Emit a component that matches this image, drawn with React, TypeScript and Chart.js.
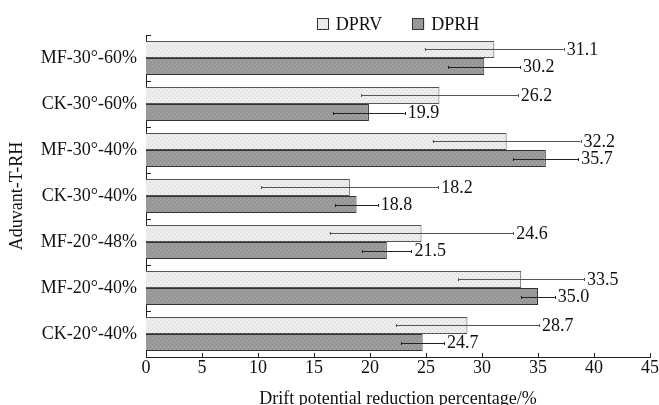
import React, { useEffect, useRef } from "react";
import { Chart, registerables } from "chart.js";

Chart.register(...registerables);

const categories = [
  "MF-30°-60%",
  "CK-30°-60%",
  "MF-30°-40%",
  "CK-30°-40%",
  "MF-20°-48%",
  "MF-20°-40%",
  "CK-20°-40%",
];
const dprv = [31.1, 26.2, 32.2, 18.2, 24.6, 33.5, 28.7];
const dprh = [30.2, 19.9, 35.7, 18.8, 21.5, 35.0, 24.7];
const dprvErr = [6.2, 7.0, 6.6, 7.9, 8.2, 5.6, 6.4];
const dprhErr = [3.2, 3.2, 2.9, 1.9, 2.2, 1.5, 1.9];
const seriesNames = ["DPRV", "DPRH"];
const xMin = 0;
const xMax = 45;
const xStep = 5;

const FONT = '"Liberation Serif", "Times New Roman", serif';

function makePattern(base: string, dot: string, dot2: string) {
  const tile = document.createElement("canvas");
  tile.width = 4;
  tile.height = 4;
  const c = tile.getContext("2d")!;
  c.fillStyle = base;
  c.fillRect(0, 0, 4, 4);
  c.fillStyle = dot;
  c.fillRect(0, 0, 1, 1);
  c.fillRect(2, 2, 1, 1);
  c.fillStyle = dot2;
  c.fillRect(2, 0, 1, 1);
  c.fillRect(0, 2, 1, 1);
  const p = c.createPattern(tile, "repeat");
  return p as CanvasPattern;
}

export default function App() {
  const ref = useRef<HTMLCanvasElement | null>(null);

  useEffect(() => {
    if (!ref.current) return;
    const patV = makePattern("#ececec", "#d6d6d6", "#f4f4f4");
    const patH = makePattern("#9a9a9a", "#888888", "#a8a8a8");
    const errs = [dprvErr, dprhErr];
    const fills = [patV, patH];

    const decor = {
      id: "decor",
      afterDatasetsDraw(chart: any) {
        const ctx = chart.ctx;
        const xs = chart.scales.x;
        const ca = chart.chartArea;
        ctx.save();
        chart.data.datasets.forEach((ds: any, di: number) => {
          const meta = chart.getDatasetMeta(di);
          meta.data.forEach((bar: any, i: number) => {
            const v = ds.data[i];
            const e = errs[di][i];
            const y = Math.round(bar.y) + 0.5;
            const x1 = xs.getPixelForValue(v - e);
            const x2 = xs.getPixelForValue(v + e);
            ctx.strokeStyle = di === 0 ? "#555" : "#222";
            ctx.lineWidth = 1;
            ctx.beginPath();
            ctx.moveTo(x1, y);
            ctx.lineTo(x2, y);
            ctx.moveTo(Math.round(x1) + 0.5, y - 1.5);
            ctx.lineTo(Math.round(x1) + 0.5, y + 1.5);
            ctx.moveTo(Math.round(x2) + 0.5, y - 1.5);
            ctx.lineTo(Math.round(x2) + 0.5, y + 1.5);
            ctx.stroke();
            ctx.fillStyle = "#111";
            ctx.font = `18px ${FONT}`;
            ctx.textAlign = "left";
            ctx.textBaseline = "middle";
            ctx.fillText(v.toFixed(1), x2 + 3, bar.y + 1);
          });
        });
        ctx.strokeStyle = "#222";
        ctx.lineWidth = 1;
        ctx.beginPath();
        for (let v = xMin; v <= xMax; v += xStep) {
          const x = Math.round(xs.getPixelForValue(v)) + 0.5;
          ctx.moveTo(x, ca.bottom);
          ctx.lineTo(x, ca.bottom - 4);
        }
        const n = categories.length;
        for (let i = 0; i <= n; i++) {
          const y = Math.round(ca.top + (i * (ca.bottom - ca.top)) / n) + 0.5;
          ctx.moveTo(ca.left, y);
          ctx.lineTo(ca.left + 5, y);
        }
        ctx.stroke();
        ctx.font = `18px ${FONT}`;
        const box = 12;
        const gap = 7;
        const itemGap = 30;
        const widths = seriesNames.map((s) => ctx.measureText(s).width);
        const total = widths.reduce((a, w) => a + box + gap + w, 0) + itemGap * (seriesNames.length - 1);
        let x = (ca.left + ca.right) / 2 - total / 2;
        const cy = 24;
        seriesNames.forEach((s, k) => {
          ctx.fillStyle = fills[k];
          ctx.fillRect(x, cy - 6, box, box);
          ctx.strokeStyle = "#333";
          ctx.strokeRect(Math.round(x) + 0.5, cy - 6 + 0.5, box - 1, box - 1);
          ctx.fillStyle = "#111";
          ctx.textAlign = "left";
          ctx.textBaseline = "middle";
          ctx.fillText(s, x + box + gap, cy + 1);
          x += box + gap + widths[k] + itemGap;
        });
        ctx.restore();
      },
    };

    const chart = new Chart(ref.current, {
      type: "bar",
      data: {
        labels: categories,
        datasets: [
          {
            label: seriesNames[0],
            data: dprv,
            backgroundColor: patV as any,
            borderColor: "#555",
            borderWidth: 1,
            categoryPercentage: 0.74,
            barPercentage: 1,
          },
          {
            label: seriesNames[1],
            data: dprh,
            backgroundColor: patH as any,
            borderColor: "#333",
            borderWidth: 1,
            categoryPercentage: 0.74,
            barPercentage: 1,
          },
        ],
      },
      options: {
        indexAxis: "y",
        animation: false,
        responsive: true,
        maintainAspectRatio: false,
        layout: { padding: { top: 35, right: 0, left: 0, bottom: 0 } },
        plugins: {
          legend: { display: false },
          tooltip: { enabled: false },
        },
        scales: {
          x: {
            type: "linear",
            min: xMin,
            max: xMax,
            ticks: {
              stepSize: xStep,
              color: "#111",
              font: { family: FONT, size: 18 },
              padding: 0,
            },
            grid: { display: false, drawTicks: false },
            border: { display: true, color: "#222", width: 1 },
            title: {
              display: true,
              text: "Drift potential reduction percentage/%",
              color: "#111",
              font: { family: FONT, size: 18 },
              padding: { top: 0, bottom: -5 },
            },
            afterFit: (s: any) => {
              s.height = 48;
            },
          },
          y: {
            type: "category",
            offset: true,
            ticks: {
              color: "#111",
              font: { family: FONT, size: 18 },
              padding: 9,
            },
            grid: { display: false, drawTicks: false },
            border: { display: true, color: "#222", width: 1 },
            title: {
              display: true,
              text: "Aduvant-T-RH",
              color: "#111",
              font: { family: FONT, size: 18 },
              padding: { top: 6, bottom: 0 },
            },
            afterFit: (s: any) => {
              s.width = 146;
            },
          },
        },
      },
      plugins: [decor],
    } as any);
    return () => chart.destroy();
  }, []);

  return (
    <div style={{ position: "fixed", left: 0, top: 0, width: 659, height: 405, background: "#fff" }}>
      <canvas ref={ref} />
    </div>
  );
}
